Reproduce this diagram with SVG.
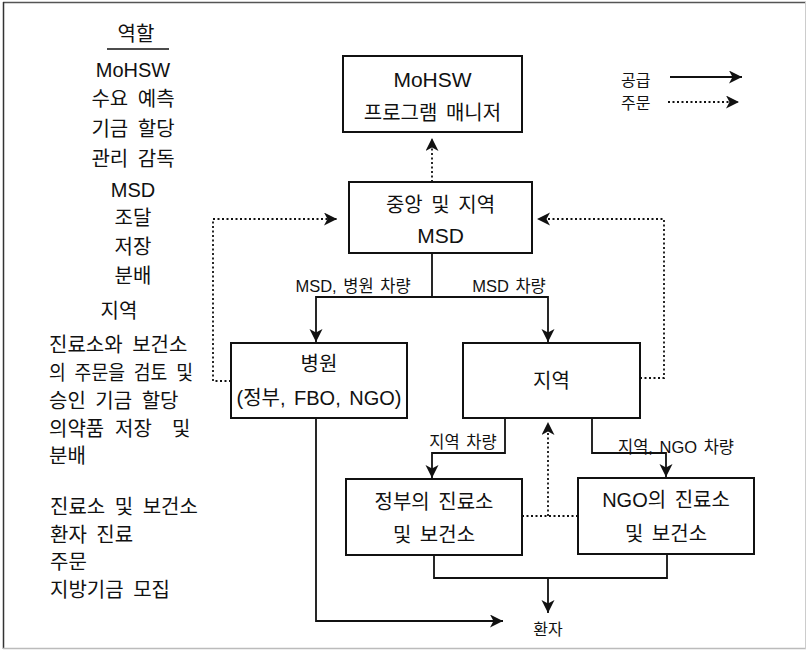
<svg xmlns="http://www.w3.org/2000/svg" width="807" height="650" viewBox="0 0 807 650">
<style>
text{font-family:"Liberation Sans","Noto Sans CJK KR",sans-serif;fill:#111;}
.side{font-size:20px;word-spacing:4px;}
.box{font-size:20px;text-anchor:middle;word-spacing:3px;}
.lat{font-size:21px;}
.lbl{font-size:16.5px;text-anchor:middle;word-spacing:2px;}
.node rect{fill:#fff;stroke:#111;stroke-width:2;}
.sup{fill:none;stroke:#111;stroke-width:1.8;}
.ord{fill:none;stroke:#111;stroke-width:1.8;stroke-dasharray:2 2.5;}
</style>
<defs>
<marker id="ah" markerUnits="userSpaceOnUse" markerWidth="16" markerHeight="16" refX="13" refY="6.5" orient="auto">
<path d="M0,0 L13,6.5 L0,13 L3.5,6.5 Z" fill="#111"/>
</marker>
</defs>
<rect width="807" height="650" fill="#fff"/>
<g id="frame">
<line x1="3" y1="2.5" x2="806" y2="2.5" stroke="#555" stroke-width="1.5"/>
<line x1="3.5" y1="2" x2="3.5" y2="649" stroke="#333" stroke-width="1.5"/>
<line x1="3" y1="648.5" x2="806" y2="648.5" stroke="#bbb" stroke-width="1.5"/>
<line x1="805.5" y1="2" x2="805.5" y2="649" stroke="#ccc" stroke-width="1"/>
</g>
<g id="roles">
<text class="side" x="136" y="41" text-anchor="middle">역할</text>
<line x1="107" y1="49" x2="169" y2="49" stroke="#111" stroke-width="1.3"/>
<text class="side" x="133" y="77" text-anchor="middle" font-size="19">MoHSW</text>
<text class="side" x="133" y="106" text-anchor="middle">수요 예측</text>
<text class="side" x="133" y="136" text-anchor="middle">기금 할당</text>
<text class="side" x="133" y="166" text-anchor="middle">관리 감독</text>
<text class="side" x="133" y="197" text-anchor="middle" font-size="19">MSD</text>
<text class="side" x="133" y="225" text-anchor="middle">조달</text>
<text class="side" x="133" y="254" text-anchor="middle">저장</text>
<text class="side" x="133" y="283" text-anchor="middle">분배</text>
<text class="side" x="119" y="318" text-anchor="middle">지역</text>
<text class="side" x="49" y="352" word-spacing="6">진료소와 보건소</text>
<text class="side" x="49" y="380" word-spacing="0" textLength="144" lengthAdjust="spacingAndGlyphs">의 주문을 검토 및</text>
<text class="side" x="49" y="408">승인 기금 할당</text>
<text class="side" y="436"><tspan x="49">의약품</tspan><tspan x="115">저장</tspan><tspan x="172">및</tspan></text>
<text class="side" x="49" y="463">분배</text>
<text class="side" x="50" y="514">진료소 및 보건소</text>
<text class="side" x="50" y="542">환자 진료</text>
<text class="side" x="50" y="569">주문</text>
<text class="side" x="50" y="597">지방기금 모집</text>
</g>
<g id="legend">
<text x="621" y="86" font-size="16">공급</text>
<text x="621" y="109" font-size="16">주문</text>
<path class="sup" d="M670,77 H742" marker-end="url(#ah)"/>
<path class="ord" d="M668,102 H739" marker-end="url(#ah)"/>
</g>
<g id="connectors">
<path class="ord" d="M432,182 V138" marker-end="url(#ah)"/>
<path class="sup" d="M432,253 V297 H316 V342" marker-end="url(#ah)"/>
<path class="sup" d="M432,297 H548 V342" marker-end="url(#ah)"/>
<path class="ord" d="M231,381 H213 V219 H337" marker-end="url(#ah)"/>
<path class="ord" d="M640,378 H664 V219 H537" marker-end="url(#ah)"/>
<path class="sup" d="M505,418 V453 H432 V478" marker-end="url(#ah)"/>
<path class="sup" d="M592,418 V453 H666 V477" marker-end="url(#ah)"/>
<path class="ord" d="M522,516 H578"/>
<path class="ord" d="M548,516 V422" marker-end="url(#ah)"/>
<path class="sup" d="M434,555 V578 H667 V554"/>
<path class="sup" d="M548,578 V613" marker-end="url(#ah)"/>
<path class="sup" d="M316,418 V621 H503" marker-end="url(#ah)"/>
<text class="lbl" x="353" y="292">MSD, 병원 차량</text>
<text class="lbl" x="509" y="292">MSD 차량</text>
<text class="lbl" x="463" y="448">지역 차량</text>
<text class="lbl" x="676" y="453">지역, NGO 차량</text>
</g>
<g id="mohsw" class="node">
<rect x="343" y="56" width="179" height="76"/>
<text class="box lat" x="432.5" y="87">MoHSW</text>
<text class="box" x="432.5" y="120">프로그램 매니저</text>
</g>
<g id="msd" class="node">
<rect x="349" y="182" width="183" height="71"/>
<text class="box" x="440.5" y="212">중앙 및 지역</text>
<text class="box lat" x="440.5" y="243">MSD</text>
</g>
<g id="hospital" class="node">
<rect x="231" y="343" width="176" height="75"/>
<text class="box" x="319" y="371">병원</text>
<text class="box" x="319" y="405" font-size="19">(정부, FBO, NGO)</text>
</g>
<g id="region" class="node">
<rect x="463" y="343" width="177" height="75"/>
<text class="box" x="551.5" y="388">지역</text>
</g>
<g id="gov-clinic" class="node">
<rect x="346" y="479" width="176" height="76"/>
<text class="box" x="434" y="509">정부의 진료소</text>
<text class="box" x="434" y="542">및 보건소</text>
</g>
<g id="ngo-clinic" class="node">
<rect x="578" y="478" width="176" height="76"/>
<text class="box" x="666" y="507">NGO의 진료소</text>
<text class="box" x="666" y="541">및 보건소</text>
</g>
<g id="patient">
<text x="548" y="635" font-size="16" text-anchor="middle">환자</text>
</g>
</svg>
